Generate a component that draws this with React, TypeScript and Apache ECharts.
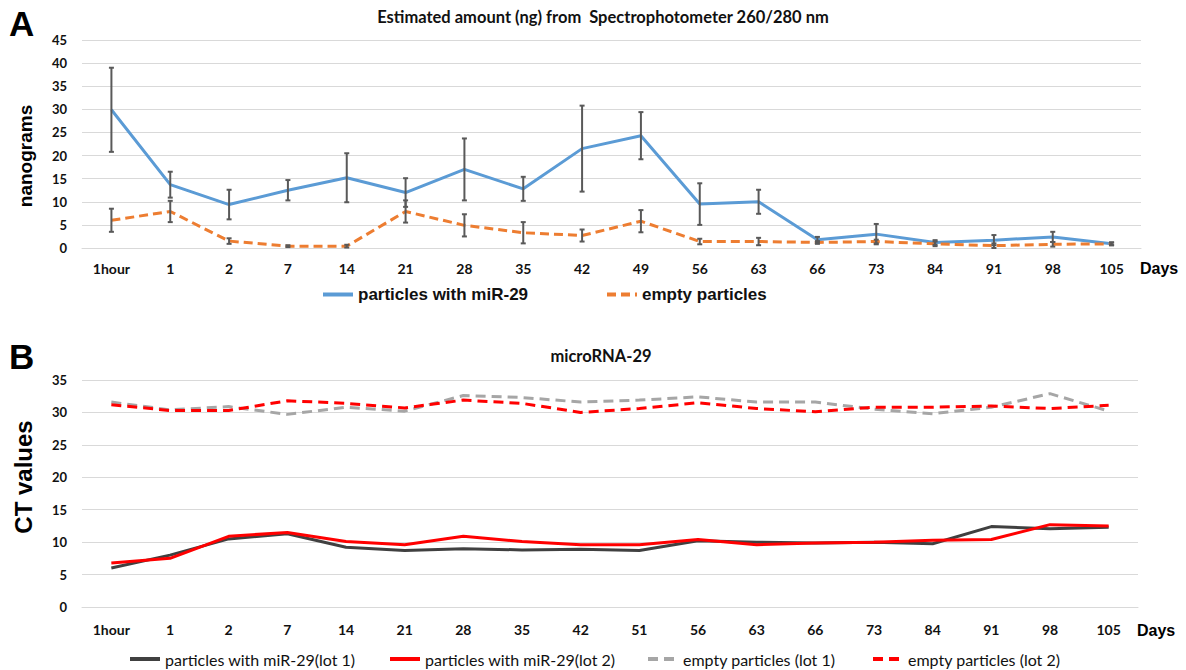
import React, { useEffect, useRef } from "react";
import * as echarts from "echarts";

const categoriesA = ["1hour", "1", "2", "7", "14", "21", "28", "35", "42", "49", "56", "63", "66", "73", "84", "91", "98", "105"];
const categoriesB = ["1hour", "1", "2", "7", "14", "21", "28", "35", "42", "51", "56", "63", "66", "73", "84", "91", "98", "105"];

// Panel A: estimated amount (ng)
const miR29Amount = [29.9, 13.7, 9.4, 12.5, 15.2, 12.0, 17.0, 12.8, 21.5, 24.3, 9.5, 10.0, 1.8, 3.0, 1.2, 1.7, 2.4, 0.9];
const miR29Error = [9.1, 2.8, 3.2, 2.2, 5.3, 3.1, 6.7, 2.6, 9.3, 5.1, 4.5, 2.6, 0.6, 2.2, 0.5, 1.1, 1.1, 0.3];
const emptyAmount = [6.0, 7.9, 1.5, 0.4, 0.4, 7.9, 4.9, 3.3, 2.7, 5.8, 1.4, 1.4, 1.2, 1.4, 0.9, 0.5, 0.8, 0.9];
const emptyError = [2.5, 2.3, 0.6, 0.2, 0.3, 2.4, 2.4, 2.3, 1.3, 2.4, 0.6, 0.8, 0.3, 0.4, 0.5, 0.5, 0.5, 0.3];

// Panel B: CT values
const ctMiR29Lot1 = [6.0, 8.0, 10.5, 11.3, 9.2, 8.7, 9.0, 8.8, 8.9, 8.7, 10.2, 10.0, 9.85, 10.0, 9.75, 12.4, 12.05, 12.3];
const ctMiR29Lot2 = [6.8, 7.5, 10.9, 11.5, 10.1, 9.6, 10.9, 10.1, 9.6, 9.6, 10.4, 9.6, 9.85, 10.0, 10.3, 10.4, 12.7, 12.5];
const ctEmptyLot1 = [31.6, 30.4, 30.9, 29.7, 30.8, 30.2, 32.6, 32.3, 31.6, 31.9, 32.4, 31.6, 31.6, 30.5, 29.8, 30.8, 32.9, 30.2];
const ctEmptyLot2 = [31.2, 30.3, 30.3, 31.8, 31.4, 30.7, 31.9, 31.4, 30.0, 30.6, 31.5, 30.6, 30.1, 30.8, 30.8, 31.0, 30.6, 31.1];

const yTicksA = { min: 0, max: 45, interval: 5 };
const yTicksB = { min: 0, max: 35, interval: 5 };

const TICK_FONT = "Lato, 'Open Sans', sans-serif";
const ARIAL = "'Liberation Sans', Arial, sans-serif";

function errorBarSeries(name: string, values: number[], errors: number[]) {
  return {
    type: "custom",
    name,
    xAxisIndex: 0,
    yAxisIndex: 0,
    z: 5,
    silent: true,
    encode: { x: 0, y: [1, 2] },
    data: values.map((v, i) => [i, v - errors[i], v + errors[i]]),
    renderItem: (params: any, api: any) => {
      const idx = api.value(0);
      const lo = api.coord([idx, api.value(1)]);
      const hi = api.coord([idx, api.value(2)]);
      const cap = 2.5;
      const style = { stroke: "#595959", lineWidth: 2 };
      return {
        type: "group",
        children: [
          { type: "line", shape: { x1: lo[0], y1: lo[1], x2: hi[0], y2: hi[1] }, style },
          { type: "line", shape: { x1: lo[0] - cap, y1: lo[1], x2: lo[0] + cap, y2: lo[1] }, style },
          { type: "line", shape: { x1: hi[0] - cap, y1: hi[1], x2: hi[0] + cap, y2: hi[1] }, style },
        ],
      };
    },
  };
}

export default function App() {
  const ref = useRef<HTMLDivElement>(null);

  useEffect(() => {
    if (!ref.current) return;
    const chart = echarts.init(ref.current, null, { renderer: "svg" });

    const gridLine = { show: true, lineStyle: { color: "#D9D9D9", width: 1 } };
    const yLabel = { color: "#111", fontFamily: TICK_FONT, fontWeight: "bold", fontSize: 13, margin: 15 };
    const xLabel = { color: "#111", fontFamily: TICK_FONT, fontWeight: "bold", fontSize: 14, margin: 13, interval: 0 };

    const legendBase = {
      padding: 0,
      itemWidth: 30,
      itemHeight: 14,
      itemStyle: { opacity: 0 },
      lineStyle: { width: 4 },
    };

    const option: any = {
      animation: false,
      backgroundColor: "#ffffff",
      title: [
        {
          text: "Estimated amount (ng) from  Spectrophotometer 260/280 nm",
          left: 598,
          top: 3,
          textAlign: "center",
          textStyle: { fontFamily: TICK_FONT, fontWeight: "bold", fontSize: 16.5, color: "#111" },
        },
        {
          text: "microRNA-29",
          left: 596,
          top: 342,
          textAlign: "center",
          textStyle: { fontFamily: TICK_FONT, fontWeight: "bold", fontSize: 16.5, color: "#111" },
        },
      ],
      grid: [
        { left: 82, right: 45, top: 40, height: 208 },
        { left: 82, right: 48, top: 380, height: 227 },
      ],
      xAxis: [
        {
          type: "category",
          gridIndex: 0,
          data: categoriesA,
          boundaryGap: true,
          axisLine: { show: true, lineStyle: { color: "#D9D9D9" } },
          axisTick: { show: false },
          axisLabel: xLabel,
        },
        {
          type: "category",
          gridIndex: 1,
          data: categoriesB,
          boundaryGap: true,
          axisLine: { show: true, lineStyle: { color: "#D9D9D9" } },
          axisTick: { show: false },
          axisLabel: { ...xLabel, margin: 15 },
        },
      ],
      yAxis: [
        {
          type: "value",
          gridIndex: 0,
          ...yTicksA,
          axisLine: { show: false },
          axisTick: { show: false },
          splitLine: gridLine,
          axisLabel: yLabel,
        },
        {
          type: "value",
          gridIndex: 1,
          ...yTicksB,
          axisLine: { show: false },
          axisTick: { show: false },
          splitLine: gridLine,
          axisLabel: yLabel,
        },
      ],
      legend: [
        {
          ...legendBase,
          data: ["particles with miR-29"],
          left: 321,
          top: 286,
          textStyle: { fontFamily: ARIAL, fontWeight: "bold", fontSize: 17, color: "#111" },
        },
        {
          ...legendBase,
          data: ["empty particles"],
          left: 605,
          top: 286,
          textStyle: { fontFamily: ARIAL, fontWeight: "bold", fontSize: 17, color: "#111" },
        },
        ...[
          ["particles with miR-29(lot 1)", 128],
          ["particles with miR-29(lot 2)", 388],
          ["empty particles (lot 1)", 646],
          ["empty particles (lot 2)", 871],
        ].map(([name, left]) => ({
          ...legendBase,
          data: [name],
          left,
          top: 651,
          textStyle: { fontFamily: TICK_FONT, fontSize: 16, color: "#111" },
        })),
      ],
      series: [
        {
          name: "particles with miR-29",
          type: "line",
          xAxisIndex: 0,
          yAxisIndex: 0,
          data: miR29Amount,
          symbol: "none",
          z: 3,
          lineStyle: { color: "#5B9BD5", width: 3 },
          itemStyle: { color: "#5B9BD5" },
        },
        {
          name: "empty particles",
          type: "line",
          xAxisIndex: 0,
          yAxisIndex: 0,
          data: emptyAmount,
          symbol: "none",
          z: 3,
          lineStyle: { color: "#ED7D31", width: 3, type: [9, 5] },
          itemStyle: { color: "#ED7D31" },
        },
        errorBarSeries("miR-29 error", miR29Amount, miR29Error),
        errorBarSeries("empty error", emptyAmount, emptyError),
        {
          name: "particles with miR-29(lot 1)",
          type: "line",
          xAxisIndex: 1,
          yAxisIndex: 1,
          data: ctMiR29Lot1,
          symbol: "none",
          lineStyle: { color: "#404040", width: 3 },
          itemStyle: { color: "#404040" },
        },
        {
          name: "particles with miR-29(lot 2)",
          type: "line",
          xAxisIndex: 1,
          yAxisIndex: 1,
          data: ctMiR29Lot2,
          symbol: "none",
          lineStyle: { color: "#FF0000", width: 3 },
          itemStyle: { color: "#FF0000" },
        },
        {
          name: "empty particles (lot 1)",
          type: "line",
          xAxisIndex: 1,
          yAxisIndex: 1,
          data: ctEmptyLot1,
          symbol: "none",
          lineStyle: { color: "#A6A6A6", width: 3, type: [10, 6] },
          itemStyle: { color: "#A6A6A6" },
        },
        {
          name: "empty particles (lot 2)",
          type: "line",
          xAxisIndex: 1,
          yAxisIndex: 1,
          data: ctEmptyLot2,
          symbol: "none",
          lineStyle: { color: "#FF0000", width: 3, type: [10, 6] },
          itemStyle: { color: "#FF0000" },
        },
      ],
      graphic: [
        { type: "text", left: 9, top: 6, style: { text: "A", fontFamily: ARIAL, fontWeight: "bold", fontSize: 35, fill: "#000" } },
        { type: "text", left: 9, top: 339, style: { text: "B", fontFamily: ARIAL, fontWeight: "bold", fontSize: 35, fill: "#000" } },
        {
          type: "text",
          x: 25,
          y: 156,
          rotation: Math.PI / 2,
          style: { text: "nanograms", fontFamily: ARIAL, fontWeight: "bold", fontSize: 19, fill: "#000", align: "center", verticalAlign: "middle" },
        },
        {
          type: "text",
          x: 23,
          y: 477,
          rotation: Math.PI / 2,
          style: { text: "CT values", fontFamily: ARIAL, fontWeight: "bold", fontSize: 24, fill: "#000", align: "center", verticalAlign: "middle" },
        },
        { type: "text", x: 1140, y: 268, style: { text: "Days", fontFamily: ARIAL, fontWeight: "bold", fontSize: 16, fill: "#000", verticalAlign: "middle" } },
        { type: "text", x: 1137, y: 630, style: { text: "Days", fontFamily: ARIAL, fontWeight: "bold", fontSize: 16, fill: "#000", verticalAlign: "middle" } },
      ],
    };

    chart.setOption(option);
    return () => chart.dispose();
  }, []);

  return <div ref={ref} style={{ position: "fixed", left: 0, top: 0, width: 1186, height: 670, background: "#fff" }} />;
}
